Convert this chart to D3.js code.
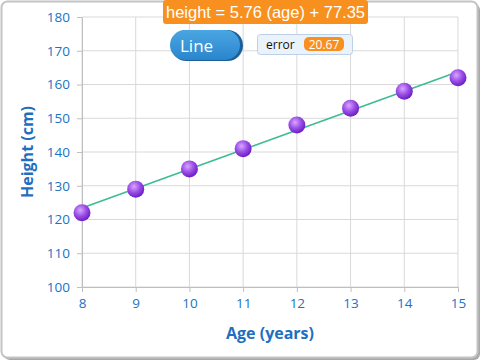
<!DOCTYPE html>
<html>
<head>
<meta charset="utf-8">
<script src="https://cdn.jsdelivr.net/npm/d3@7"></script>
<style>
  body { margin: 0; background: #fff; }
  svg { display: block; font-family: "Open Sans", "Liberation Sans", sans-serif; }
</style>
</head>
<body>
<svg id="chart"></svg>
<script>
// Data
var ages = [8, 9, 10, 11, 12, 13, 14, 15];
var heights = [122, 129, 135, 141, 148, 153, 158, 162];
var slope = 5.76;
var intercept = 77.35;
var errorValue = 20.67;
var yTicks = [100, 110, 120, 130, 140, 150, 160, 170, 180];

// SVG size params
var W = 482, H = 362;
var margin = {top: 17, right: 24, bottom: 75, left: 82};
var width = 458 - 82;
var height = 287 - 17;

var root = d3.select("#chart")
    .attr("width", W)
    .attr("height", H);

// Gradients
var defs = root.append("defs");
var ball = defs.append("radialGradient")
    .attr("id", "ball")
    .attr("cx", "40%").attr("cy", "35%").attr("r", "65%");
ball.append("stop").attr("offset", "0%").attr("stop-color", "#d9a6ff");
ball.append("stop").attr("offset", "55%").attr("stop-color", "#9a4de6");
ball.append("stop").attr("offset", "100%").attr("stop-color", "#6a1fc4");

var btn = defs.append("linearGradient")
    .attr("id", "btn").attr("x1", 0).attr("y1", 0).attr("x2", 0).attr("y2", 1);
btn.append("stop").attr("offset", "0%").attr("stop-color", "#4aa6e2");
btn.append("stop").attr("offset", "100%").attr("stop-color", "#2a86cc");

// Frame with shadow
root.append("rect")
    .attr("x", 4).attr("y", 4).attr("width", 476).attr("height", 356)
    .attr("rx", 6).attr("fill", "#a8a8a8");
root.append("rect")
    .attr("x", 1.5).attr("y", 1.5).attr("width", 476).attr("height", 356)
    .attr("rx", 6).attr("fill", "#fff")
    .attr("stroke", "#c4c4c4").attr("stroke-width", 2);

var svg = root.append("g")
    .attr("transform", "translate(" + margin.left + "," + margin.top + ")");

// Scales
var x = d3.scaleLinear().domain([8, 15]).range([0, width]);
var y = d3.scaleLinear().domain([100, 180]).range([height, 0]);

// Grid lines
svg.append("g").selectAll("line.h")
  .data(yTicks)
  .enter().append("line")
    .attr("x1", 0).attr("x2", width)
    .attr("y1", d => y(d)).attr("y2", d => y(d))
    .attr("stroke", "#d9d9d9");
svg.append("g").selectAll("line.v")
  .data(ages)
  .enter().append("line")
    .attr("x1", d => x(d)).attr("x2", d => x(d))
    .attr("y1", 0).attr("y2", height)
    .attr("stroke", "#d9d9d9");

// Axes
var xAxis = d3.axisBottom(x).tickValues(ages).tickFormat(d3.format("d"))
    .tickSize(5).tickPadding(6).tickSizeOuter(0);
var yAxis = d3.axisLeft(y).tickValues(yTicks).tickFormat(d3.format("d"))
    .tickSize(5).tickPadding(7).tickSizeOuter(0);

var gx = svg.append("g")
    .attr("transform", "translate(0," + height + ")")
    .call(xAxis);
var gy = svg.append("g").call(yAxis);

[gx, gy].forEach(function(g) {
  g.select(".domain").attr("stroke", "#bfbfbf");
  g.selectAll(".tick line").attr("stroke", "#bfbfbf");
  g.selectAll(".tick text")
    .attr("fill", "#1874c4")
    .style("font-size", "13.5px")
    .style("font-family", "'Open Sans', sans-serif");
});

// Axis titles
root.append("text")
    .attr("x", 270).attr("y", 339)
    .attr("text-anchor", "middle")
    .attr("fill", "#1f6fbf")
    .style("font-size", "16px").style("font-weight", "bold")
    .text("Age (years)");
root.append("text")
    .attr("transform", "translate(33,152) rotate(-90)")
    .attr("text-anchor", "middle")
    .attr("fill", "#1f6fbf")
    .style("font-size", "16px").style("font-weight", "bold")
    .text("Height (cm)");

// Regression line
var line = d3.line()
    .x(d => x(d))
    .y(d => y(slope * d + intercept));
svg.append("path")
    .attr("d", line([ages[0], ages[ages.length - 1]]))
    .attr("fill", "none")
    .attr("stroke", "#3dbb95")
    .attr("stroke-width", 1.6);

// Points
svg.append("g").selectAll("circle")
  .data(ages)
  .enter().append("circle")
    .attr("cx", d => x(d))
    .attr("cy", (d, i) => y(heights[i]))
    .attr("r", 8.5)
    .attr("fill", "url(#ball)");

// Equation label
root.append("rect")
    .attr("x", 163).attr("y", 0).attr("width", 205).attr("height", 24)
    .attr("rx", 3).attr("fill", "#f7901e");
root.append("text")
    .attr("x", 265.5).attr("y", 18)
    .attr("text-anchor", "middle")
    .attr("fill", "#fff")
    .style("font-family", "'Liberation Sans', Arial, sans-serif")
    .style("font-size", "16.5px")
    .text("height = " + slope + " (age) + " + intercept);

// "Line" button
root.append("rect")
    .attr("x", 171).attr("y", 30).attr("width", 72).attr("height", 31)
    .attr("rx", 15.5).attr("fill", "#1d5f9a");
root.append("rect")
    .attr("x", 170).attr("y", 30).attr("width", 70).attr("height", 30)
    .attr("rx", 15).attr("fill", "url(#btn)");
root.append("text")
    .attr("x", 180).attr("y", 51.5)
    .attr("fill", "#fff")
    .style("font-size", "17px")
    .text("Line");

// Error box
root.append("rect")
    .attr("x", 257.5).attr("y", 34.5).attr("width", 95).attr("height", 20)
    .attr("rx", 3).attr("fill", "#eaf2fc").attr("stroke", "#bcd0e8");
root.append("text")
    .attr("x", 266).attr("y", 49)
    .attr("fill", "#111")
    .style("font-size", "12px")
    .text("error");
root.append("rect")
    .attr("x", 304).attr("y", 37).attr("width", 40).attr("height", 14)
    .attr("rx", 5).attr("fill", "#f7901e");
root.append("text")
    .attr("x", 324).attr("y", 48.5)
    .attr("text-anchor", "middle")
    .attr("fill", "#fff")
    .style("font-size", "12px")
    .text(errorValue);
</script>
</body>
</html>
